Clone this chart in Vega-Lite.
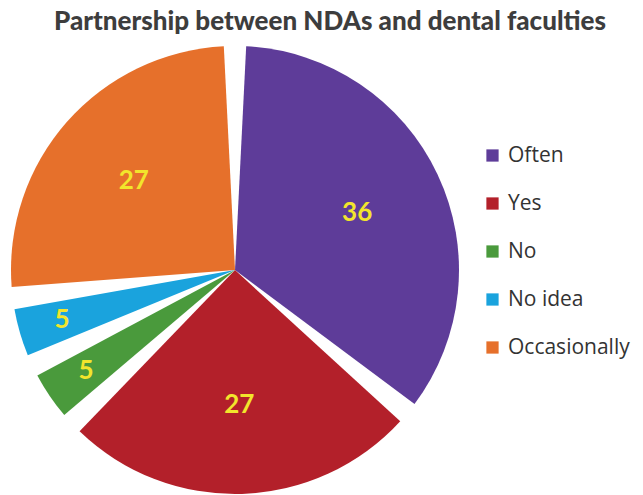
{
  "$schema": "https://vega.github.io/schema/vega-lite/v6.json",
  "width": 470,
  "height": 450,
  "autosize": {"type": "none"},
  "padding": {"top": 45, "left": 0, "right": 173, "bottom": 0},
  "background": "white",
  "title": {
    "text": "Partnership between NDAs and dental faculties",
    "font": "Lato",
    "fontSize": 26,
    "fontWeight": 900,
    "color": "#3d3d3d",
    "anchor": "middle",
    "dx": 95,
    "offset": 10
  },
  "data": {
    "values": [
      {"answer": "Often", "value": 36, "order": 1},
      {"answer": "Yes", "value": 27, "order": 2},
      {"answer": "No", "value": 5, "order": 3},
      {"answer": "No idea", "value": 5, "order": 4},
      {"answer": "Occasionally", "value": 27, "order": 5}
    ]
  },
  "encoding": {
    "theta": {"field": "value", "type": "quantitative", "stack": true},
    "order": {"field": "order", "type": "quantitative"}
  },
  "layer": [
    {
      "mark": {"type": "arc", "radius": 224, "padAngle": 0.1},
      "encoding": {
        "color": {
          "field": "answer",
          "type": "nominal",
          "scale": {
            "domain": ["Often", "Yes", "No", "No idea", "Occasionally"],
            "range": ["#5E3C99", "#B3202A", "#4A9A3C", "#1AA3DD", "#E6702B"]
          },
          "legend": {
            "orient": "none",
            "legendX": 482,
            "legendY": 100,
            "title": null,
            "symbolType": "square",
            "symbolSize": 150,
            "symbolStrokeWidth": 0,
            "labelFont": "Open Sans",
            "labelFontSize": 21,
            "labelColor": "#333333",
            "labelOffset": 5,
            "rowPadding": 26
          }
        }
      }
    },
    {
      "mark": {"type": "text", "radius": 135, "font": "Lato", "fontSize": 26, "fontWeight": "bold", "color": "#F2E52C"},
      "encoding": {
        "text": {"condition": {"test": "datum.value > 10", "field": "value", "type": "quantitative"}, "value": ""}
      }
    },
    {
      "mark": {"type": "text", "radius": 180, "font": "Lato", "fontSize": 26, "fontWeight": "bold", "color": "#F2E52C"},
      "encoding": {
        "text": {"condition": {"test": "datum.value < 10", "field": "value", "type": "quantitative"}, "value": ""}
      }
    }
  ]
}
